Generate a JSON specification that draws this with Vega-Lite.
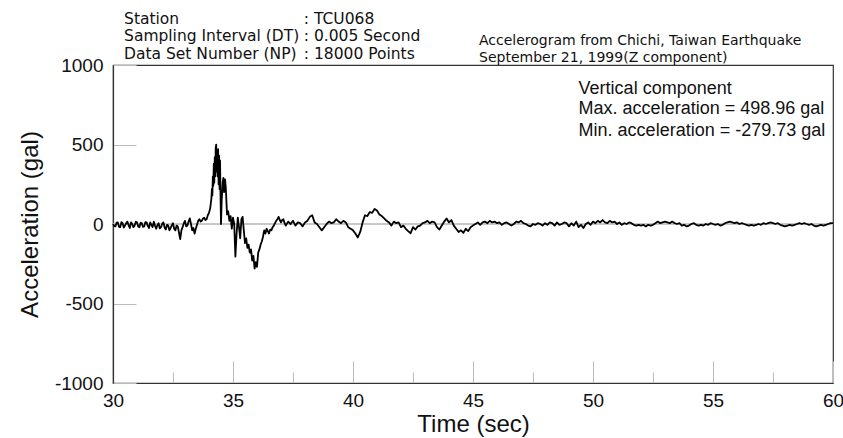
{
  "$schema": "https://vega.github.io/schema/vega-lite/v6.json",
  "width": 720,
  "height": 318,
  "autosize": {"type": "none"},
  "padding": {"left": 113, "top": 65, "right": 10, "bottom": 55},
  "background": "white",
  "config": {
    "view": {"stroke": "#333", "strokeWidth": 1.2},
    "font": "Liberation Sans",
    "axis": {"labelFont": "Liberation Sans", "titleFont": "Liberation Sans", "titleFontWeight": "normal", "labelColor": "#111", "titleColor": "#111"}
  },
  "datasets": {
    "acc": [
      {"t":30.0,"a":0},{"t":30.05,"a":-12},{"t":30.1,"a":-15},{"t":30.15,"a":8},{"t":30.2,"a":10},{"t":30.25,"a":-18},{"t":30.3,"a":-20},{"t":30.35,"a":12},{"t":30.4,"a":5},{"t":30.45,"a":-22},{"t":30.5,"a":-10},{"t":30.55,"a":6},{"t":30.6,"a":15},{"t":30.65,"a":-8},{"t":30.7,"a":-25},{"t":30.75,"a":10},{"t":30.8,"a":0},{"t":30.85,"a":-20},{"t":30.9,"a":-10},{"t":30.95,"a":14},{"t":31.0,"a":10},{"t":31.05,"a":-15},{"t":31.1,"a":-20},{"t":31.15,"a":8},{"t":31.2,"a":5},{"t":31.25,"a":-18},{"t":31.3,"a":-15},{"t":31.35,"a":12},{"t":31.4,"a":10},{"t":31.45,"a":-12},{"t":31.5,"a":-25},{"t":31.55,"a":10},{"t":31.6,"a":-5},{"t":31.65,"a":-20},{"t":31.7,"a":15},{"t":31.75,"a":-10},{"t":31.8,"a":-30},{"t":31.85,"a":-8},{"t":31.9,"a":5},{"t":31.95,"a":-28},{"t":32.0,"a":-20},{"t":32.05,"a":2},{"t":32.1,"a":10},{"t":32.15,"a":-22},{"t":32.2,"a":-35},{"t":32.25,"a":-5},{"t":32.3,"a":-10},{"t":32.35,"a":-40},{"t":32.4,"a":-25},{"t":32.45,"a":-8},{"t":32.5,"a":5},{"t":32.55,"a":-30},{"t":32.6,"a":-40},{"t":32.65,"a":-10},{"t":32.7,"a":-15},{"t":32.75,"a":-55},{"t":32.8,"a":-95},{"t":32.85,"a":-40},{"t":32.9,"a":-20},{"t":32.95,"a":5},{"t":33.0,"a":20},{"t":33.05,"a":-15},{"t":33.1,"a":-10},{"t":33.15,"a":15},{"t":33.2,"a":35},{"t":33.25,"a":0},{"t":33.3,"a":-40},{"t":33.35,"a":-25},{"t":33.4,"a":-60},{"t":33.45,"a":-30},{"t":33.5,"a":-5},{"t":33.55,"a":20},{"t":33.6,"a":30},{"t":33.65,"a":15},{"t":33.7,"a":20},{"t":33.75,"a":35},{"t":33.8,"a":40},{"t":33.85,"a":25},{"t":33.9,"a":30},{"t":33.95,"a":55},{"t":34.0,"a":70},{"t":34.05,"a":100},{"t":34.1,"a":160},{"t":34.12,"a":220},{"t":34.14,"a":180},{"t":34.16,"a":300},{"t":34.18,"a":240},{"t":34.2,"a":380},{"t":34.22,"a":260},{"t":34.24,"a":420},{"t":34.26,"a":300},{"t":34.28,"a":480},{"t":34.3,"a":499},{"t":34.32,"a":330},{"t":34.34,"a":460},{"t":34.36,"a":300},{"t":34.38,"a":470},{"t":34.4,"a":250},{"t":34.42,"a":430},{"t":34.44,"a":220},{"t":34.46,"a":400},{"t":34.48,"a":180},{"t":34.5,"a":0},{"t":34.53,"a":150},{"t":34.57,"a":260},{"t":34.6,"a":290},{"t":34.63,"a":200},{"t":34.67,"a":280},{"t":34.7,"a":230},{"t":34.75,"a":60},{"t":34.8,"a":80},{"t":34.85,"a":20},{"t":34.9,"a":50},{"t":34.95,"a":-30},{"t":35.0,"a":40},{"t":35.05,"a":0},{"t":35.1,"a":-205},{"t":35.15,"a":-60},{"t":35.2,"a":40},{"t":35.25,"a":-20},{"t":35.3,"a":-90},{"t":35.35,"a":30},{"t":35.4,"a":45},{"t":35.45,"a":-40},{"t":35.5,"a":-120},{"t":35.55,"a":-90},{"t":35.6,"a":-150},{"t":35.65,"a":-130},{"t":35.7,"a":-180},{"t":35.75,"a":-160},{"t":35.8,"a":-230},{"t":35.85,"a":-200},{"t":35.9,"a":-280},{"t":35.95,"a":-240},{"t":36.0,"a":-270},{"t":36.05,"a":-180},{"t":36.1,"a":-160},{"t":36.15,"a":-130},{"t":36.2,"a":-110},{"t":36.25,"a":-80},{"t":36.3,"a":-40},{"t":36.35,"a":-60},{"t":36.4,"a":-30},{"t":36.45,"a":-45},{"t":36.5,"a":-60},{"t":36.55,"a":-35},{"t":36.6,"a":-40},{"t":36.65,"a":-20},{"t":36.7,"a":-10},{"t":36.75,"a":5},{"t":36.8,"a":20},{"t":36.85,"a":30},{"t":36.9,"a":45},{"t":36.95,"a":25},{"t":37.0,"a":10},{"t":37.05,"a":25},{"t":37.1,"a":30},{"t":37.15,"a":5},{"t":37.2,"a":-10},{"t":37.3,"a":15},{"t":37.4,"a":0},{"t":37.5,"a":20},{"t":37.6,"a":-10},{"t":37.7,"a":10},{"t":37.8,"a":5},{"t":37.9,"a":-15},{"t":38.0,"a":10},{"t":38.1,"a":20},{"t":38.2,"a":45},{"t":38.3,"a":55},{"t":38.4,"a":10},{"t":38.5,"a":0},{"t":38.6,"a":-20},{"t":38.7,"a":-40},{"t":38.8,"a":-20},{"t":38.9,"a":0},{"t":39.0,"a":15},{"t":39.1,"a":5},{"t":39.2,"a":10},{"t":39.3,"a":30},{"t":39.4,"a":15},{"t":39.5,"a":5},{"t":39.6,"a":20},{"t":39.7,"a":10},{"t":39.8,"a":-20},{"t":39.9,"a":-30},{"t":40.0,"a":-40},{"t":40.1,"a":-60},{"t":40.2,"a":-85},{"t":40.3,"a":-50},{"t":40.4,"a":10},{"t":40.5,"a":55},{"t":40.6,"a":50},{"t":40.7,"a":75},{"t":40.8,"a":70},{"t":40.9,"a":95},{"t":41.0,"a":85},{"t":41.1,"a":60},{"t":41.2,"a":50},{"t":41.3,"a":35},{"t":41.4,"a":20},{"t":41.5,"a":10},{"t":41.6,"a":-10},{"t":41.7,"a":15},{"t":41.8,"a":5},{"t":41.9,"a":10},{"t":42.0,"a":-20},{"t":42.1,"a":-10},{"t":42.2,"a":-30},{"t":42.3,"a":-45},{"t":42.4,"a":-58},{"t":42.5,"a":-20},{"t":42.6,"a":-35},{"t":42.7,"a":-15},{"t":42.8,"a":-10},{"t":42.9,"a":5},{"t":43.0,"a":10},{"t":43.1,"a":20},{"t":43.2,"a":5},{"t":43.3,"a":15},{"t":43.4,"a":10},{"t":43.5,"a":-20},{"t":43.6,"a":-35},{"t":43.7,"a":-10},{"t":43.8,"a":15},{"t":43.9,"a":35},{"t":44.0,"a":10},{"t":44.1,"a":25},{"t":44.2,"a":-10},{"t":44.3,"a":-30},{"t":44.4,"a":-50},{"t":44.5,"a":-40},{"t":44.6,"a":-55},{"t":44.7,"a":-30},{"t":44.8,"a":-45},{"t":44.9,"a":-20},{"t":45.0,"a":-10},{"t":45.1,"a":0},{"t":45.2,"a":10},{"t":45.3,"a":-5},{"t":45.4,"a":10},{"t":45.5,"a":15},{"t":45.6,"a":5},{"t":45.7,"a":20},{"t":45.8,"a":10},{"t":45.9,"a":15},{"t":46.0,"a":5},{"t":46.1,"a":10},{"t":46.2,"a":-5},{"t":46.3,"a":5},{"t":46.4,"a":10},{"t":46.5,"a":0},{"t":46.6,"a":-10},{"t":46.7,"a":0},{"t":46.8,"a":15},{"t":46.9,"a":10},{"t":47.0,"a":20},{"t":47.1,"a":5},{"t":47.2,"a":0},{"t":47.3,"a":-10},{"t":47.4,"a":-15},{"t":47.5,"a":0},{"t":47.6,"a":-5},{"t":47.7,"a":5},{"t":47.8,"a":0},{"t":47.9,"a":-10},{"t":48.0,"a":5},{"t":48.1,"a":-5},{"t":48.2,"a":10},{"t":48.3,"a":5},{"t":48.4,"a":-10},{"t":48.5,"a":10},{"t":48.6,"a":-5},{"t":48.7,"a":0},{"t":48.8,"a":10},{"t":48.9,"a":5},{"t":49.0,"a":-15},{"t":49.1,"a":5},{"t":49.2,"a":-10},{"t":49.3,"a":15},{"t":49.4,"a":-20},{"t":49.5,"a":-5},{"t":49.6,"a":-25},{"t":49.7,"a":0},{"t":49.8,"a":10},{"t":49.9,"a":-5},{"t":50.0,"a":15},{"t":50.1,"a":5},{"t":50.2,"a":20},{"t":50.3,"a":10},{"t":50.4,"a":25},{"t":50.5,"a":10},{"t":50.6,"a":5},{"t":50.7,"a":20},{"t":50.8,"a":10},{"t":50.9,"a":15},{"t":51.0,"a":0},{"t":51.1,"a":10},{"t":51.2,"a":-5},{"t":51.3,"a":5},{"t":51.4,"a":0},{"t":51.5,"a":10},{"t":51.6,"a":5},{"t":51.7,"a":-5},{"t":51.8,"a":-10},{"t":51.9,"a":-5},{"t":52.0,"a":-10},{"t":52.1,"a":-5},{"t":52.2,"a":-15},{"t":52.3,"a":-5},{"t":52.4,"a":-10},{"t":52.5,"a":-5},{"t":52.6,"a":5},{"t":52.7,"a":15},{"t":52.8,"a":5},{"t":52.9,"a":10},{"t":53.0,"a":15},{"t":53.1,"a":10},{"t":53.2,"a":5},{"t":53.3,"a":15},{"t":53.4,"a":5},{"t":53.5,"a":0},{"t":53.6,"a":5},{"t":53.7,"a":-10},{"t":53.8,"a":-5},{"t":53.9,"a":-15},{"t":54.0,"a":-10},{"t":54.1,"a":0},{"t":54.2,"a":5},{"t":54.3,"a":-5},{"t":54.4,"a":-10},{"t":54.5,"a":-5},{"t":54.6,"a":-10},{"t":54.7,"a":0},{"t":54.8,"a":-5},{"t":54.9,"a":5},{"t":55.0,"a":0},{"t":55.1,"a":-5},{"t":55.2,"a":0},{"t":55.3,"a":-10},{"t":55.4,"a":-5},{"t":55.5,"a":5},{"t":55.6,"a":10},{"t":55.7,"a":15},{"t":55.8,"a":10},{"t":55.9,"a":5},{"t":56.0,"a":10},{"t":56.1,"a":0},{"t":56.2,"a":5},{"t":56.3,"a":0},{"t":56.4,"a":-5},{"t":56.5,"a":-10},{"t":56.6,"a":-5},{"t":56.7,"a":-10},{"t":56.8,"a":-5},{"t":56.9,"a":0},{"t":57.0,"a":-5},{"t":57.1,"a":5},{"t":57.2,"a":0},{"t":57.3,"a":5},{"t":57.4,"a":10},{"t":57.5,"a":5},{"t":57.6,"a":0},{"t":57.7,"a":5},{"t":57.8,"a":-5},{"t":57.9,"a":-10},{"t":58.0,"a":-15},{"t":58.1,"a":-10},{"t":58.2,"a":-5},{"t":58.3,"a":-10},{"t":58.4,"a":-5},{"t":58.5,"a":0},{"t":58.6,"a":5},{"t":58.7,"a":0},{"t":58.8,"a":5},{"t":58.9,"a":0},{"t":59.0,"a":-5},{"t":59.1,"a":0},{"t":59.2,"a":-10},{"t":59.3,"a":-15},{"t":59.4,"a":-10},{"t":59.5,"a":-5},{"t":59.6,"a":-10},{"t":59.7,"a":-5},{"t":59.8,"a":0},{"t":59.9,"a":5},{"t":60.0,"a":5}
    ],
    "notes": [
      {"g":"head","label":"Station","t":30.46,"a":1292},
      {"g":"head","label":": TCU068","t":37.95,"a":1292},
      {"g":"head","label":"Sampling Interval (DT)","t":30.46,"a":1180},
      {"g":"head","label":": 0.005 Second","t":37.95,"a":1180},
      {"g":"head","label":"Data Set Number (NP)","t":30.46,"a":1070},
      {"g":"head","label":": 18000 Points","t":37.95,"a":1070},
      {"g":"event","label":"Accelerogram from Chichi, Taiwan Earthquake","t":45.25,"a":1148},
      {"g":"event","label":"September 21, 1999(Z component)","t":45.25,"a":1045},
      {"g":"info","label":"Vertical component","t":49.4,"a":850},
      {"g":"info","label":"Max. acceleration = 498.96 gal","t":49.4,"a":722},
      {"g":"info","label":"Min. acceleration = -279.73 gal","t":49.4,"a":585}
    ]
  },
  "layer": [
    {
      "data": {"name": "acc"},
      "mark": {"type": "rule", "color": "#c8c8c8", "strokeWidth": 1},
      "encoding": {
        "y": {"datum": 0, "type": "quantitative"}
      }
    },
    {
      "data": {"name": "acc"},
      "mark": {"type": "line", "color": "#000", "strokeWidth": 1.8, "strokeJoin": "round"},
      "encoding": {
        "x": {
          "field": "t", "type": "quantitative",
          "scale": {"domain": [30, 60], "nice": false, "zero": false},
          "axis": {
            "title": "Time (sec)",
            "values": [30, 32.5, 35, 37.5, 40, 42.5, 45, 47.5, 50, 52.5, 55, 57.5, 60],
            "labelExpr": "datum.value % 5 === 0 ? toString(datum.value) : ''",
            "grid": false,
            "domainColor": "#333",
            "domainWidth": 1.2,
            "tickColor": "#bbb",
            "tickSize": {"condition": {"test": "datum.value % 5 === 0", "value": -22}, "value": -11},
            "labelFontSize": 19,
            "labelPadding": 30,
            "labelFlush": false,
            "titleFontSize": 24,
            "titlePadding": 2
          }
        },
        "y": {
          "field": "a", "type": "quantitative",
          "scale": {"domain": [-1000, 1000], "nice": false},
          "axis": {
            "title": "Acceleration (gal)",
            "values": [-1000, -750, -500, -250, 0, 250, 500, 750, 1000],
            "labelExpr": "datum.value % 500 === 0 ? toString(datum.value) : ''",
            "grid": false,
            "domainColor": "#333",
            "domainWidth": 1.2,
            "tickColor": "#bbb",
            "tickSize": {"condition": {"test": "datum.value % 500 === 0", "value": -23}, "value": -12},
            "labelFontSize": 19,
            "labelPadding": 33,
            "titleFontSize": 24,
            "titlePadding": 12
          }
        }
      }
    },
    {
      "data": {"name": "notes"},
      "transform": [{"filter": "datum.g === 'head'"}],
      "mark": {"type": "text", "align": "left", "baseline": "middle", "font": "DejaVu Sans", "fontSize": 15.5, "color": "#111"},
      "encoding": {
        "x": {"field": "t", "type": "quantitative"},
        "y": {"field": "a", "type": "quantitative"},
        "text": {"field": "label"}
      }
    },
    {
      "data": {"name": "notes"},
      "transform": [{"filter": "datum.g === 'event'"}],
      "mark": {"type": "text", "align": "left", "baseline": "middle", "font": "DejaVu Sans", "fontSize": 14, "color": "#111"},
      "encoding": {
        "x": {"field": "t", "type": "quantitative"},
        "y": {"field": "a", "type": "quantitative"},
        "text": {"field": "label"}
      }
    },
    {
      "data": {"name": "notes"},
      "transform": [{"filter": "datum.g === 'info'"}],
      "mark": {"type": "text", "align": "left", "baseline": "middle", "fontSize": 18, "color": "#111"},
      "encoding": {
        "x": {"field": "t", "type": "quantitative"},
        "y": {"field": "a", "type": "quantitative"},
        "text": {"field": "label"}
      }
    }
  ]
}
